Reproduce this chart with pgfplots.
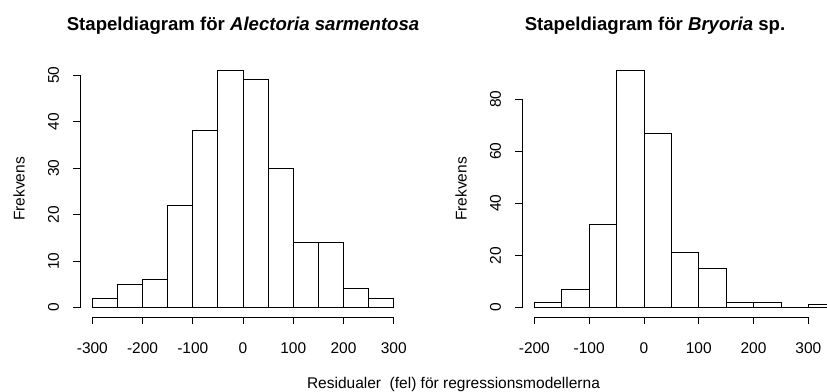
\documentclass[border=0pt]{standalone}
\usepackage{pgfplots}
\pgfplotsset{compat=1.18}
\usepackage{fontspec}
\setmainfont{Liberation Sans}

\pgfplotsset{
  rhist/.style={
    scale only axis, width=325.5pt, height=256pt,
    axis x line*=bottom, axis y line*=left,
    axis line style={draw=none},
    clip=false,
    tick align=outside, major tick length=7pt,
    tick style={black, line width=0.9pt},
    /pgf/number format/assume math mode=true,
    tick label style={font=\fontsize{15.5}{18}\selectfont},
    xticklabel style={anchor=north, inner sep=0pt},
    xticklabel shift=18pt,
    yticklabel style={rotate=90, anchor=south, inner sep=0pt},
    yticklabel shift=14pt,
    every axis y label/.style={at={(axis description cs:-0.17,0.5)}, rotate=90, anchor=south, inner sep=0pt, font=\fontsize{15.5}{18}\selectfont},
    every axis title/.style={anchor=base, inner sep=0pt, font=\fontsize{18.6}{22}\selectfont\bfseries},
    ylabel={Frekvens},
  },
  bars/.style={ybar interval, fill=white, draw=black, line width=0.9pt},
}

\begin{document}
\begin{tikzpicture}[x=1pt,y=1pt]
\useasboundingbox (0,0) rectangle (827,391);
\clip (0,0) rectangle (827,391);

\begin{axis}[rhist, at={(80.3pt,74pt)}, anchor=south west,
  xmin=-324, xmax=324, ymin=-2.04, ymax=53.04,
  xtick={-300,-200,-100,0,100,200,300},
  ytick={0,10,20,30,40,50},
  title style={at={(axis description cs:0.5,1.121)}},
  title={Stapeldiagram för \textit{Alectoria sarmentosa}}]
\addplot[bars] coordinates {(-300,2) (-250,5) (-200,6) (-150,22) (-100,38) (-50,51) (0,49) (50,30) (100,14) (150,14) (200,4) (250,2) (300,0)};
\draw[line width=0.9pt] (axis cs:-300,-2.04) -- (axis cs:300,-2.04);
\draw[line width=0.9pt] (axis cs:-324,0) -- (axis cs:-324,50);
\end{axis}

\begin{axis}[rhist, at={(522.3pt,74pt)}, anchor=south west,
  xmin=-222, xmax=372, ymin=-3.64, ymax=94.64,
  xtick={-200,-100,0,100,200,300},
  ytick={0,20,40,60,80},
  title style={at={(axis description cs:0.4077,1.121)}},
  title={Stapeldiagram för \textit{Bryoria} sp.}]
\addplot[bars] coordinates {(-200,2) (-150,7) (-100,32) (-50,91) (0,67) (50,21) (100,15) (150,2) (200,2) (250,0) (300,1) (350,0)};
\draw[line width=0.9pt] (axis cs:-200,-3.64) -- (axis cs:300,-3.64);
\draw[line width=0.9pt] (axis cs:-222,0) -- (axis cs:-222,80);
\end{axis}

\node[anchor=base, inner sep=0pt, font=\fontsize{15.5}{18}\selectfont] at (453.5,3) {Residualer\ \ (fel) för regressionsmodellerna};
\end{tikzpicture}
\end{document}
